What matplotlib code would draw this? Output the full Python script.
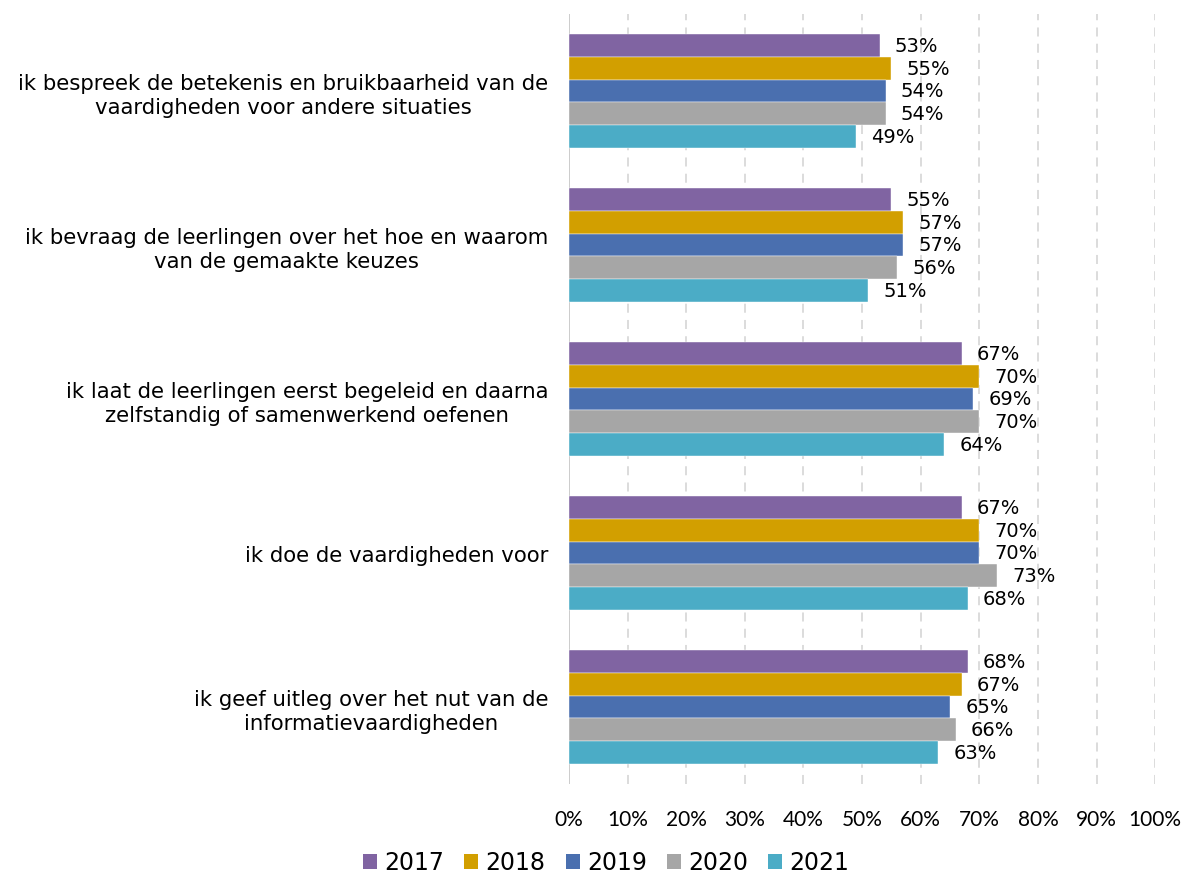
import numpy as np
import matplotlib
matplotlib.use("Agg")
import matplotlib.pyplot as plt
from matplotlib.patches import Patch

categories = [
    "ik bespreek de betekenis en bruikbaarheid van de\nvaardigheden voor andere situaties",
    "ik bevraag de leerlingen over het hoe en waarom\nvan de gemaakte keuzes",
    "ik laat de leerlingen eerst begeleid en daarna\nzelfstandig of samenwerkend oefenen",
    "ik doe de vaardigheden voor",
    "ik geef uitleg over het nut van de\ninformatievaardigheden",
]
years = ["2017", "2018", "2019", "2020", "2021"]
v2017 = [53, 55, 67, 67, 68]
v2018 = [55, 57, 70, 70, 67]
v2019 = [54, 57, 69, 70, 65]
v2020 = [54, 56, 70, 73, 66]
v2021 = [49, 51, 64, 68, 63]
series = [v2017, v2018, v2019, v2020, v2021]
colors = ["#8064A2", "#D29F00", "#4A6FAF", "#A6A6A6", "#4BACC6"]
xticks = [0, 10, 20, 30, 40, 50, 60, 70, 80, 90, 100]

fig = plt.figure(figsize=(11.84, 8.79), dpi=100)
ax = fig.add_axes([0.4806, 0.107, 0.495, 0.876])

h = 0.1476
y = np.arange(len(categories))
for i, (vals, col) in enumerate(zip(series, colors)):
    pos = y - 2 * h + i * h
    ax.barh(pos, vals, height=h, color=col, edgecolor="white", linewidth=0.3, zorder=3)
    for p, v in zip(pos, vals):
        ax.annotate(f"{v}%", (v, p), xytext=(11, 0), textcoords="offset points",
                    ha="left", va="center", fontsize=14, color="#000000",
                    family="DejaVu Sans", zorder=4)

ax.set_xlim(0, 100)
ax.set_ylim(4.5, -0.5)
ax.set_xticks(xticks)
ax.set_xticklabels([f"{t}%" for t in xticks], family="Lato", fontsize=15)
ax.set_yticks(y)
ax.set_yticklabels(categories, fontsize=15.3, family="DejaVu Sans",
                   multialignment="center", linespacing=1.25)
ax.tick_params(axis="x", length=0, pad=18)
ax.tick_params(axis="y", length=0, pad=15)
for s in ax.spines.values():
    s.set_visible(False)
for t in xticks[1:]:
    ax.axvline(t, color="#D9D9D9", linestyle=(0, (5, 4)), linewidth=1.3, zorder=1)
ax.axvline(0, color="#C8C8C8", linewidth=1.3, zorder=2)

handles = [Patch(facecolor=c, label=yr) for c, yr in zip(colors, years)]
fig.legend(handles=handles, loc="lower center", ncol=5, frameon=False,
           fontsize=17, bbox_to_anchor=(0.512, -0.02), handlelength=0.6,
           handleheight=0.6, handletextpad=0.3, columnspacing=0.85)

fig.savefig("out.png", dpi=100)
